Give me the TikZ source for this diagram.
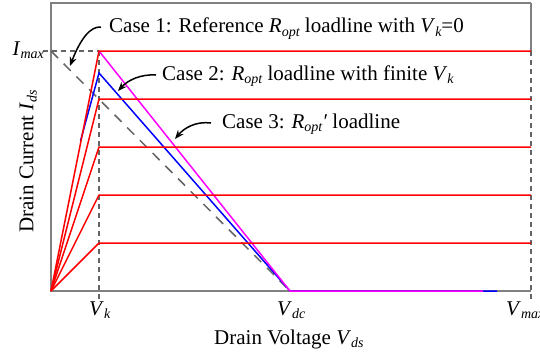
\documentclass[tikz,border=0pt]{standalone}
\usepackage{fontspec}
\setmainfont{Liberation Serif}
\usetikzlibrary{arrows.meta}
\newcommand\dn[1]{\raisebox{-0.35ex}{\fontsize{14}{14}\selectfont\itshape #1}}
\definecolor{axgray}{RGB}{128,128,128}
\definecolor{dgray}{RGB}{100,100,100}
\definecolor{pred}{RGB}{255,0,0}
\definecolor{pblue}{RGB}{0,0,255}
\definecolor{pmag}{RGB}{255,0,255}
\begin{document}
\begin{tikzpicture}[x=1pt,y=-1pt,
  lbl/.style={inner sep=0pt,anchor=base west,font=\fontsize{21}{25}\selectfont},
  axisline/.style={axgray,line width=2pt},
  guide/.style={dgray,line width=1.5pt,dash pattern=on 5pt off 4pt},
  refline/.style={dgray,line width=1.5pt,dash pattern=on 10pt off 8pt},
  curve/.style={pred,line width=1.5pt},
  loadB/.style={pblue,line width=1.5pt},
  loadM/.style={pmag,line width=1.5pt},
  callout/.style={black,line width=1.5pt,-{Stealth[length=9pt,width=7pt]}}]
\useasboundingbox (0,0) rectangle (540,354);
% key points
\coordinate (O) at (51,291);
\coordinate (TL) at (51,3);
\coordinate (TR) at (531,3);
\coordinate (BR) at (531,291);
\coordinate (IM) at (51,51);
\coordinate (IMl) at (43,51);
\coordinate (K1) at (99,51);
\coordinate (K2) at (99,99);
\coordinate (K3) at (99,147);
\coordinate (K4) at (99,195);
\coordinate (K5) at (99,243);
\coordinate (R1) at (531,51);
\coordinate (R2) at (531,99);
\coordinate (R3) at (531,147);
\coordinate (R4) at (531,195);
\coordinate (R5) at (531,243);
\coordinate (VkB) at (99,300);
\coordinate (VmB) at (531,300);
\coordinate (Vdc) at (290,291);
\coordinate (BK) at (99,73);
\coordinate (BS) at (80.5,141);
\coordinate (BE) at (497,291);
\coordinate (ME) at (483,291);
% axes / frame
\draw[axisline] (TR) -- (TL) -- (O) -- (BR);
\draw[axisline] (TR) -- (R1);
% guides
\draw[guide] (IMl) -- (K1);
\draw[guide] (K1) -- (VkB);
\draw[guide] (R1) -- (VmB);
\draw[refline] (IM) -- (Vdc);
% loadlines
\draw[loadB] (BS) -- (BK) -- (Vdc) -- (BE);
\draw[loadM] (K1) -- (Vdc) -- (ME);
% I-V curves
\draw[curve] (O) -- (K1) -- (R1);
\draw[curve] (O) -- (K2) -- (R2);
\draw[curve] (O) -- (K3) -- (R3);
\draw[curve] (O) -- (K4) -- (R4);
\draw[curve] (O) -- (K5) -- (R5);
% labels
\node[lbl] (imax) at (12.5,55) {\textit{I}\dn{max}};
\node[lbl] (vk) at (89,315) {\textit{V}\dn{k}};
\node[lbl] (vdc) at (277,315) {\textit{V}\dn{dc}};
\node[lbl] (vmax) at (506,315) {\textit{V}\dn{max}};
\node[lbl] (xlab) at (214,344) {Drain Voltage \textit{V}\dn{ds}};
\node[lbl,rotate=90] (ylab) at (33.3,233) {Drain Current \textit{I}\dn{ds}};
\node[lbl] (c1) at (109,32.7) {Case 1: Reference \textit{R}\dn{opt} loadline with \textit{V}\dn{k}=0};
\node[lbl] (c2) at (162,80) {Case 2: \textit{R}\dn{opt} loadline with finite \textit{V}\dn{k}};
\node[lbl] (c3) at (222,128) {Case 3: \textit{R}\dn{opt}\textit{′} loadline};
% callout arrows
\coordinate (a1s) at (101,27);
\coordinate (a1e) at (70,66);
\coordinate (a2s) at (156,75);
\coordinate (a2e) at (118,91);
\coordinate (a3s) at (211,123);
\coordinate (a3e) at (175,139);
\draw[callout] (a1s) .. controls (90,26) and (80,40) .. (a1e);
\draw[callout] (a2s) .. controls (141,74) and (128,80) .. (a2e);
\draw[callout] (a3s) .. controls (196,121) and (184,128) .. (a3e);
\end{tikzpicture}
\end{document}
